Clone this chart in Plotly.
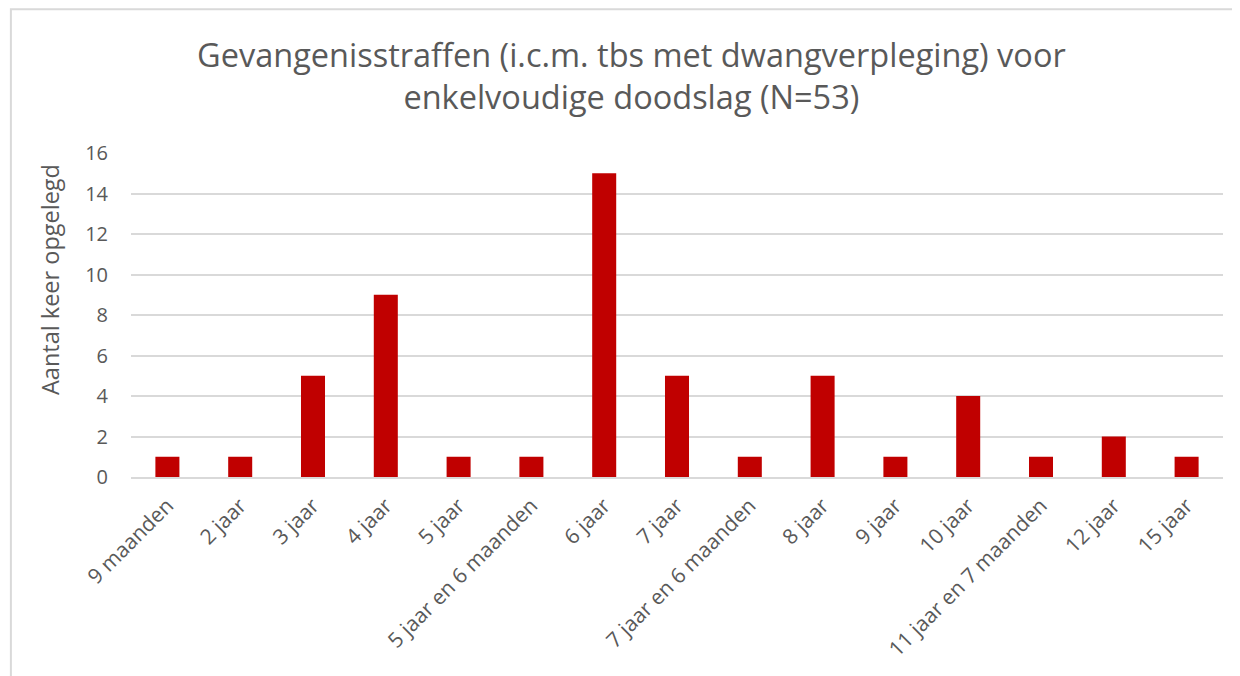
import plotly.graph_objects as go

categories = [
    "9 maanden", "2 jaar", "3 jaar", "4 jaar", "5 jaar", "5 jaar en 6 maanden",
    "6 jaar", "7 jaar", "7 jaar en 6 maanden", "8 jaar", "9 jaar", "10 jaar",
    "11 jaar en 7 maanden", "12 jaar", "15 jaar",
]
counts = [1, 1, 5, 9, 1, 1, 15, 5, 1, 5, 1, 4, 1, 2, 1]
y_ticks = [0, 2, 4, 6, 8, 10, 12, 14, 16]

TEXT = "#595959"
FONT = "Open Sans"

fig = go.Figure(
    go.Bar(x=categories, y=counts, marker=dict(color="#C00000", line=dict(width=0)))
)

# page body adds an 8px margin, so the figure is 8px smaller than the window
fig.update_layout(
    width=1232, height=668,
    margin=dict(l=123, r=17, t=145, b=199),
    paper_bgcolor="white", plot_bgcolor="white",
    font=dict(family=FONT, color=TEXT, size=19),
    bargap=0.67,
    showlegend=False,
    title=dict(
        text="Gevangenisstraffen (i.c.m. tbs met dwangverpleging) voor<br>enkelvoudige doodslag (N=53)",
        x=0.506, xanchor="center", y=0.912, yanchor="middle",
        font=dict(family=FONT, size=32.5, color=TEXT),
    ),
    shapes=[dict(
        type="rect", xref="paper", yref="paper",
        x0=-0.11, x1=1.2, y0=-1.0, y1=1.444,
        line=dict(color="#D9D9D9", width=2), layer="below",
    )],
    # axis title sits above the plot centre in the original, so place it by hand
    annotations=[dict(
        text="Aantal keer opgelegd", xref="paper", yref="paper",
        x=-0.0742, y=0.611, xanchor="center", yanchor="middle",
        textangle=-90, showarrow=False,
        font=dict(family=FONT, size=23.5, color=TEXT),
    )],
)

fig.update_xaxes(
    tickangle=-45, showgrid=False, showline=True, linecolor="#D9D9D9",
    linewidth=2, ticks="", tickfont=dict(size=21, color=TEXT),
    ticklabelstandoff=6,
)
fig.update_yaxes(
    range=[0, 16], tickvals=y_ticks, showgrid=True, gridcolor="#D9D9D9",
    gridwidth=1.5, zeroline=False, ticks="", showline=False,
    tickfont=dict(size=20, color=TEXT), ticklabelstandoff=22,
)

fig.write_html("out.html")
